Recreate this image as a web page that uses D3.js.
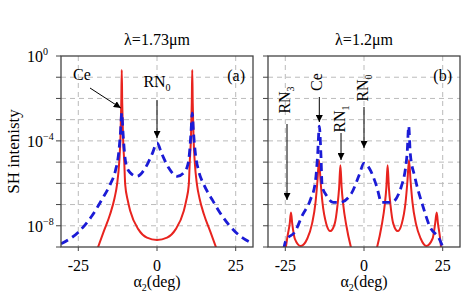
<!DOCTYPE html>
<html>
<head>
  <script src="https://cdn.jsdelivr.net/npm/d3@7"></script>
  <style>
    html, body { margin: 0; background: #fff; }
    svg { font-family: "Liberation Serif", "DejaVu Serif", serif; }
  </style>
</head>
<body>
<svg id="chart" width="463" height="302"></svg>
<script>
// angle (deg) and log10 of SH intensity
var redA = [[-19.2,-9.2],[-17,-8.3],[-14.9,-7.46],[-13.5,-6.7],[-12.7,-6.06],[-12.0,-5.0],[-11.6,-3.8],[-11.35,-2.2],[-11.2,-0.66],
  [-11.05,-2.2],[-10.8,-3.8],[-10.4,-5.0],[-10.1,-6.06],[-9.3,-6.8],[-8.5,-7.3],[-5.9,-8.17],[-3.2,-8.56],[0,-8.67],
  [3.2,-8.56],[5.9,-8.17],[8.5,-7.3],[9.3,-6.8],[10.1,-6.06],[10.4,-5.0],[10.8,-3.8],[11.05,-2.2],[11.2,-0.66],
  [11.35,-2.2],[11.6,-3.8],[12.0,-5.0],[12.7,-6.06],[13.5,-6.7],[14.9,-7.46],[17,-8.3],[19.2,-9.2]];
var blueA = [[-30.5,-8.85],[-25,-8.3],[-20.7,-7.54],[-17.5,-6.76],[-14.9,-6.06],[-13.2,-5.4],[-12.2,-4.6],[-11.6,-3.6],[-11.2,-2.69],
  [-10.8,-3.6],[-10.3,-4.6],[-9.8,-5.12],[-8.5,-5.5],[-6.4,-5.67],[-3.7,-5.27],[-1.5,-4.6],[0,-4.1],
  [1.5,-4.6],[3.7,-5.27],[6.4,-5.67],[8.5,-5.5],[9.8,-5.12],[10.3,-4.6],[10.8,-3.6],[11.2,-2.69],
  [11.6,-3.6],[12.2,-4.6],[13.2,-5.4],[14.9,-6.06],[17.5,-6.76],[20.7,-7.54],[25,-8.3],[30.5,-8.85]];
var redB = [[-25,-9.2],[-24.3,-8.5],[-23.6,-7.9],[-23.2,-7.38],[-22.8,-7.9],[-22,-8.6],[-20.1,-8.95],[-18,-8.6],[-16.5,-7.9],
  [-15.4,-6.9],[-14.8,-5.9],[-14.3,-4.9],[-13.8,-5.9],[-13.2,-6.9],[-12,-7.9],[-10.7,-8.25],[-9.3,-7.9],[-8.4,-7.0],
  [-7.9,-6.2],[-7.5,-5.15],[-7.1,-6.2],[-6.6,-7.0],[-5.6,-8.0],[-4.0,-9.1],[-3.0,-9.6],[0,-9.9],[3.0,-9.6],
  [4.0,-9.1],[5.6,-8.0],[6.6,-7.0],[7.1,-6.2],[7.5,-5.15],[7.9,-6.2],[8.4,-7.0],[9.3,-7.9],[10.7,-8.25],[12,-7.9],
  [13.2,-6.9],[13.8,-5.9],[14.3,-4.9],[14.8,-5.9],[15.4,-6.9],[16.5,-7.9],[18,-8.6],[19.8,-8.95],[21.8,-8.6],
  [22.6,-7.9],[23.1,-7.38],[23.5,-7.9],[24.1,-8.5],[24.6,-9.2]];
var blueB = [[-25.5,-9.1],[-24.9,-8.72],[-21.8,-8.25],[-19.7,-7.54],[-17,-6.76],[-15.5,-5.98],[-14.7,-4.6],[-14.2,-3.3],
  [-13.7,-4.6],[-13.3,-6.13],[-11.8,-6.6],[-9.8,-6.9],[-7.6,-6.9],[-3.9,-6.45],[-1.5,-5.6],[0,-5.05],[1.9,-5.35],
  [4,-6.13],[5.6,-6.9],[8.7,-6.9],[11.9,-6.13],[13.7,-4.6],[14.2,-3.3],[14.7,-4.6],[16.1,-5.67],[18.7,-7.07],
  [20.8,-8.0],[24,-8.64],[25.3,-9.1]];

var xTicks = [-25, 0, 25];
var yDecades = [0, -1, -2, -3, -4, -5, -6, -7, -8, -9];
var yLabels = [0, -4, -8];

var titles = ["\u03bb=1.73\u03bcm", "\u03bb=1.2\u03bcm"];
var tags = ["(a)", "(b)"];

var svg = d3.select("#chart");
var plotTop = 56, plotBottom = 247;

var y = d3.scaleLog().domain([1e-9, 1]).range([plotBottom, plotTop]);

var defs = svg.append("defs");
defs.append("marker")
    .attr("id", "head")
    .attr("viewBox", "0 0 10 10")
    .attr("refX", 10).attr("refY", 5)
    .attr("markerWidth", 7).attr("markerHeight", 7)
    .attr("markerUnits", "userSpaceOnUse")
    .attr("orient", "auto")
  .append("path")
    .attr("d", "M0,0L10,5L0,10z")
    .attr("fill", "#000");

function panel(i, left, right, red, blue, withLabels) {
  var x = d3.scaleLinear().domain([-30.5, 30.5]).range([left, right]);
  var g = svg.append("g");

  defs.append("clipPath").attr("id", "clip" + i)
    .append("rect").attr("x", left).attr("y", plotTop)
    .attr("width", right - left).attr("height", plotBottom - plotTop);

  // grid
  g.selectAll(".hg").data(yDecades.slice(1, -1)).enter().append("line")
      .attr("x1", left).attr("x2", right)
      .attr("y1", function(d) { return y(Math.pow(10, d)); })
      .attr("y2", function(d) { return y(Math.pow(10, d)); })
      .attr("stroke", "#bbb").attr("stroke-width", 1).attr("stroke-dasharray", "5,4");
  g.selectAll(".vg").data(xTicks).enter().append("line")
      .attr("x1", function(d) { return x(d); }).attr("x2", function(d) { return x(d); })
      .attr("y1", plotTop).attr("y2", plotBottom)
      .attr("stroke", "#bbb").attr("stroke-width", 1).attr("stroke-dasharray", "5,4");

  var line = d3.line()
      .x(function(d) { return x(d[0]); })
      .y(function(d) { return y(Math.pow(10, d[1])); })
      .curve(d3.curveMonotoneX);

  var plot = g.append("g").attr("clip-path", "url(#clip" + i + ")");
  plot.append("path").attr("d", line(red))
      .attr("fill", "none").attr("stroke", "#e8231e").attr("stroke-width", 2);
  plot.append("path").attr("d", line(blue))
      .attr("fill", "none").attr("stroke", "#1b1bd6").attr("stroke-width", 2.8)
      .attr("stroke-dasharray", "8,5");

  // frame
  g.append("rect").attr("x", left).attr("y", plotTop)
      .attr("width", right - left).attr("height", plotBottom - plotTop)
      .attr("fill", "none").attr("stroke", "#444").attr("stroke-width", 1.3);

  // ticks
  g.selectAll(".yt").data(yDecades).enter().append("line")
      .attr("x1", left - 5).attr("x2", left)
      .attr("y1", function(d) { return y(Math.pow(10, d)); })
      .attr("y2", function(d) { return y(Math.pow(10, d)); })
      .attr("stroke", "#444").attr("stroke-width", 1);
  g.selectAll(".xt").data(xTicks).enter().append("line")
      .attr("x1", function(d) { return x(d); }).attr("x2", function(d) { return x(d); })
      .attr("y1", plotBottom).attr("y2", plotBottom + 4)
      .attr("stroke", "#444").attr("stroke-width", 1);

  g.selectAll(".xl").data(xTicks).enter().append("text")
      .attr("x", function(d) { return x(d); }).attr("y", plotBottom + 24)
      .attr("text-anchor", "middle").attr("font-size", 16)
      .text(function(d) { return d; });

  if (withLabels) {
    var yl = g.selectAll(".yl").data(yLabels).enter().append("text")
        .attr("x", 27).attr("y", function(d) { return y(Math.pow(10, d)) + 6; })
        .attr("font-size", 16);
    yl.append("tspan").text("10");
    yl.append("tspan").attr("font-size", 10).attr("dy", -7)
        .text(function(d) { return d === 0 ? "0" : "\u2212" + (-d); });
  }

  var xl = g.append("text").attr("x", x(0)).attr("y", 287)
      .attr("text-anchor", "middle").attr("font-size", 16);
  xl.append("tspan").text("\u03b1");
  xl.append("tspan").attr("font-size", 10).attr("dy", 4).text("2");
  xl.append("tspan").attr("dy", -4).text("(deg)");

  g.append("text").attr("x", x(0)).attr("y", 45)
      .attr("text-anchor", "middle").attr("font-size", 16).text(titles[i]);
  g.append("text").attr("x", right - 8).attr("y", 81)
      .attr("text-anchor", "end").attr("font-size", 16).text(tags[i]);

  return x;
}

var xa = panel(0, 61, 253, redA, blueA, true);
var xb = panel(1, 268, 460, redB, blueB, false);

// y axis title
svg.append("text")
    .attr("transform", "translate(19," + ((plotTop + plotBottom) / 2) + ") rotate(-90)")
    .attr("text-anchor", "middle").attr("font-size", 17)
    .text("SH intenisty");

function arrow(x1, y1, x2, y2) {
  svg.append("line").attr("x1", x1).attr("y1", y1).attr("x2", x2).attr("y2", y2)
      .attr("stroke", "#000").attr("stroke-width", 1)
      .attr("marker-end", "url(#head)");
}

function subLabel(gx, gy, main, sub, rotate) {
  var t = svg.append("text")
      .attr("transform", "translate(" + gx + "," + gy + ")" + (rotate ? " rotate(-90)" : ""))
      .attr("text-anchor", "middle").attr("font-size", 16);
  t.append("tspan").text(main);
  if (sub) t.append("tspan").attr("font-size", 10).attr("dy", 4).text(sub);
}

// panel (a) annotations
subLabel(82, 80, "Ce", null, false);
arrow(90, 88, xa(-11.5), 108);
subLabel(157, 87, "RN", "0", false);
arrow(xa(0), 100, xa(0), 138);

// panel (b) annotations
subLabel(290, 100, "RN", "3", true);
arrow(287, 124, 287, 200);
subLabel(322, 82, "Ce", null, true);
arrow(xb(-14.2), 97, xb(-14.2), 122);
subLabel(345, 119, "RN", "1", true);
arrow(xb(-7.3), 133, xb(-7.3), 160);
subLabel(368, 88, "RN", "0", true);
arrow(xb(0), 107, xb(0), 148);
</script>
</body>
</html>
